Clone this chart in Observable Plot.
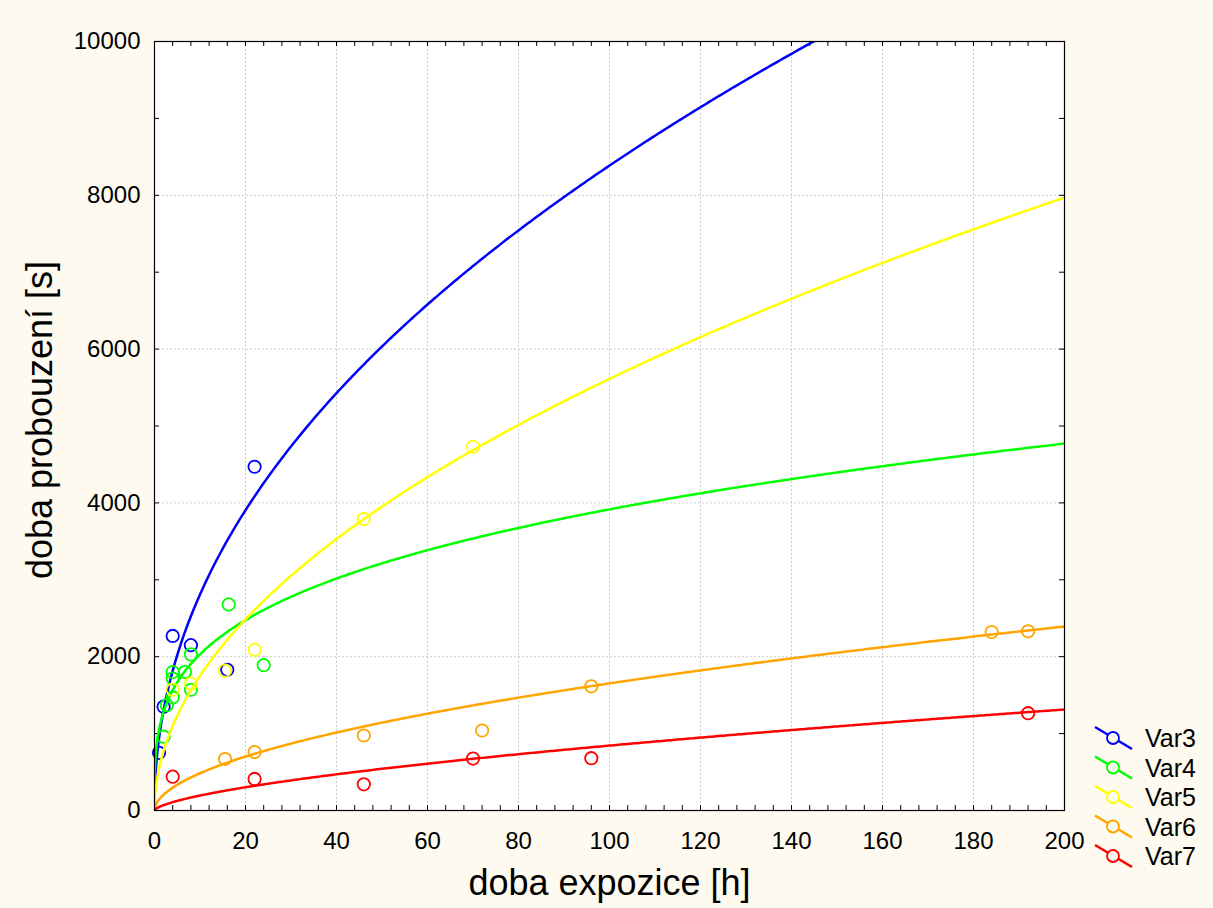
<!DOCTYPE html>
<html>
<head>
<meta charset="utf-8">
<script src="https://cdn.jsdelivr.net/npm/d3@7"></script>
<script src="https://cdn.jsdelivr.net/npm/@observablehq/plot@0.6"></script>
<style>
  html, body { margin: 0; padding: 0; background: #fefaf0; }
  #wrap { position: relative; width: 1213px; height: 908px; font-family: "Liberation Sans", Arial, sans-serif; }
  #legend { position: absolute; left: 1088px; top: 720px; }
</style>
</head>
<body>
<div id="wrap"></div>
<script>
// ---- data ----
const seriesNames = ["Var3", "Var4", "Var5", "Var6", "Var7"];
const seriesColors = ["#0000ff", "#00ff00", "#ffff00", "#ffa500", "#ff0000"];

const var3X = [1, 2, 4, 8, 16, 22];
const var3Y = [750, 1350, 2270, 2150, 1830, 4470];

const var4X = [2, 2.7, 4, 4, 4, 6.7, 8, 8, 16.3, 24];
const var4Y = [960, 1370, 1470, 1715, 1800, 1800, 1570, 2030, 2680, 1890];

const var5X = [4, 8, 15.5, 22, 46, 70];
const var5Y = [1570, 1650, 1820, 2090, 3790, 4730];

const var6X = [15.5, 22, 46, 72, 96, 184, 192];
const var6Y = [670, 760, 975, 1040, 1615, 2320, 2330];

const var7X = [4, 22, 46, 70, 96, 192];
const var7Y = [440, 410, 340, 675, 680, 1265];

// power-fit curves y = a * x^b, coefficients
const fitA = [941, 1054, 546, 142, 44.7];
const fitB = [0.475, 0.285, 0.506, 0.533, 0.638];

const xTicks = [0, 20, 40, 60, 80, 100, 120, 140, 160, 180, 200];
const yTicks = [0, 2000, 4000, 6000, 8000, 10000];
const xTitle = "doba expozice [h]";
const yTitle = "doba probouzení [s]";

// ---- build tables ----
const xsAll = [var3X, var4X, var5X, var6X, var7X];
const ysAll = [var3Y, var4Y, var5Y, var6Y, var7Y];
const points = [];
seriesNames.forEach((s, i) => xsAll[i].forEach((x, j) => points.push({series: s, x, y: ysAll[i][j]})));

const sampleX = d3.range(0, 2, 0.02).concat(d3.range(2, 200.25, 0.5));
const curves = [];
seriesNames.forEach((s, i) => sampleX.forEach(x => curves.push({series: s, x, y: fitA[i] * Math.pow(x, fitB[i])})));

const W = 1213, H = 908;
const mL = 154, mR = 149, mT = 41, mB = 98;
const plotH = H - mT - mB, plotW = W - mL - mR;
const minorX = d3.range(0, 201, 4);
const minorY = d3.range(0, 10001, 1000);

const marks = [
  Plot.frame({fill: "white", stroke: "none"}),
  Plot.gridX(xTicks.slice(1, -1), {stroke: "#bdbdbd", strokeOpacity: 1, strokeDasharray: "1.5,2.5"}),
  Plot.gridY(yTicks.slice(1, -1), {stroke: "#bdbdbd", strokeOpacity: 1, strokeDasharray: "1.5,2.5"}),
  Plot.tickX(minorX, {x: d => d, insetTop: plotH - 5, stroke: "black"}),
  Plot.tickX(minorX, {x: d => d, insetBottom: plotH - 5, stroke: "black"}),
  Plot.tickY(minorY, {y: d => d, insetRight: plotW - 5, stroke: "black"}),
  Plot.tickY(minorY, {y: d => d, insetLeft: plotW - 5, stroke: "black"}),
];
seriesNames.forEach((s, i) => {
  marks.push(Plot.line(curves.filter(d => d.series === s), {x: "x", y: "y", stroke: seriesColors[i], strokeWidth: 2.5, clip: true}));
  marks.push(Plot.dot(points.filter(d => d.series === s), {x: "x", y: "y", stroke: seriesColors[i], r: 6.2, strokeWidth: 1.8, fill: "none"}));
});
marks.push(
  Plot.frame({stroke: "black", strokeWidth: 1.2}),
  Plot.axisX(xTicks, {anchor: "bottom", tickSize: 0, tickPadding: 21, tickFormat: d => String(d), fontSize: 24, label: null}),
  Plot.axisY(yTicks, {anchor: "left", tickSize: 0, tickPadding: 14, tickFormat: d => String(d), fontSize: 24, label: null}),
  Plot.text([xTitle], {frameAnchor: "bottom", dy: 84, text: d => d, fontSize: 36, fill: "black", textAnchor: "middle"}),
  Plot.text([yTitle], {frameAnchor: "left", dx: -114, dy: -6, text: d => d, rotate: -90, fontSize: 36, fill: "black", textAnchor: "middle"})
);

const chart = Plot.plot({
  width: W, height: H,
  marginLeft: mL, marginRight: mR, marginTop: mT, marginBottom: mB,
  x: {domain: [0, 200], nice: false},
  y: {domain: [0, 10000], nice: false},
  style: {background: "transparent", fontFamily: "'Liberation Sans', Arial, sans-serif", fontSize: "24px", color: "black"},
  marks
});
document.getElementById("wrap").appendChild(chart);

// ---- legend ----
const leg = d3.select("#wrap").append("svg").attr("id", "legend").attr("width", 125).attr("height", 160);
seriesNames.forEach((s, i) => {
  const cy = 18 + i * 29.5;
  const g = leg.append("g");
  g.append("line").attr("x1", 7).attr("y1", cy - 11).attr("x2", 44).attr("y2", cy + 11)
    .attr("stroke", seriesColors[i]).attr("stroke-width", 2.5);
  g.append("circle").attr("cx", 25).attr("cy", cy).attr("r", 6)
    .attr("fill", "#fefaf0").attr("stroke", seriesColors[i]).attr("stroke-width", 1.8);
  g.append("text").attr("x", 57).attr("y", cy).attr("dy", "0.36em")
    .attr("font-family", "'Liberation Sans', Arial, sans-serif").attr("font-size", 25).text(s);
});
</script>
</body>
</html>
